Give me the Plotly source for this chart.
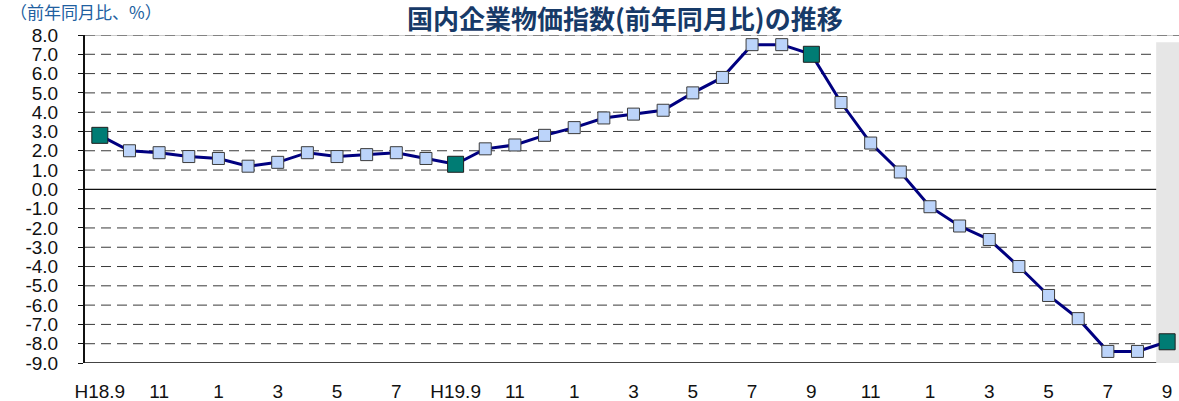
import plotly.graph_objects as go

# 国内企業物価指数 前年同月比（%）, H18.9 〜 H21.9
months = [
    "H18.9", "10", "11", "12", "1", "2", "3", "4", "5", "6", "7", "8",
    "H19.9", "10", "11", "12", "1", "2", "3", "4", "5", "6", "7", "8",
    "9", "10", "11", "12", "1", "2", "3", "4", "5", "6", "7", "8", "9",
]
yoy = [
    2.8, 2.0, 1.9, 1.7, 1.6, 1.2, 1.4, 1.9, 1.7, 1.8, 1.9, 1.6,
    1.3, 2.1, 2.3, 2.8, 3.2, 3.7, 3.9, 4.1, 5.0, 5.8, 7.5, 7.5,
    7.0, 4.5, 2.4, 0.9, -0.9, -1.9, -2.6, -4.0, -5.5, -6.7, -8.4, -8.4, -7.9,
]
# 各年9月の値を強調表示
september_idx = [0, 12, 24, 36]

x_tick_pos = list(range(0, 37, 2))
x_tick_text = ["H18.9", "11", "1", "3", "5", "7",
               "H19.9", "11", "1", "3", "5", "7",
               "9", "11", "1", "3", "5", "7", "9"]
y_tick_vals = list(range(-9, 9))
y_tick_text = [f"{v:.1f}" for v in y_tick_vals]

x = list(range(len(yoy)))

fig = go.Figure()

# 直近月の網掛け
fig.add_shape(type="rect", xref="x", yref="y",
              x0=35.63, x1=36.6, y0=-9, y1=7.62,
              fillcolor="#E6E6E6", line_width=0, layer="below")

# 上端の細線
fig.add_shape(type="line", xref="paper", yref="y", x0=0, x1=1, y0=8, y1=8,
              line=dict(color="#9A9A9A", width=1), layer="below")
# 横の点線グリッド
for v in y_tick_vals:
    if v in (0, -9):
        continue
    fig.add_shape(type="line", xref="paper", yref="y", x0=0, x1=1, y0=v, y1=v,
                  line=dict(color="#3A3A3A", width=1, dash="10px,6px"), layer="below")
# ゼロ線と下端
fig.add_shape(type="line", xref="paper", yref="y", x0=0, x1=1, y0=0, y1=0,
              line=dict(color="#111111", width=1.2), layer="below")
fig.add_shape(type="line", xref="paper", yref="y", x0=0, x1=1, y0=-9, y1=-9,
              line=dict(color="#444444", width=2), layer="below")

fig.add_trace(go.Scatter(
    x=x, y=yoy, mode="lines+markers",
    line=dict(color="#000080", width=3),
    marker=dict(symbol="square", size=12, color="#BCD4FA",
                line=dict(color="#3C3C3C", width=1)),
    hoverinfo="x+y", showlegend=False,
))
fig.add_trace(go.Scatter(
    x=[x[i] for i in september_idx], y=[yoy[i] for i in september_idx],
    mode="markers",
    marker=dict(symbol="square", size=16, color="#007C74",
                line=dict(color="#1E1E1E", width=1)),
    showlegend=False,
))

fig.update_layout(
    width=1179, height=401, autosize=False,
    margin=dict(l=85, r=0, t=35, b=38),
    paper_bgcolor="white", plot_bgcolor="white",
    font=dict(family="Liberation Sans, Arial, sans-serif", color="#111111"),
    xaxis=dict(range=[-0.5, 36.4], tickmode="array", tickvals=x_tick_pos,
               ticktext=x_tick_text, showgrid=False, zeroline=False,
               showline=False, ticks="", tickfont=dict(size=19),
               ticklabelstandoff=15, fixedrange=True),
    yaxis=dict(range=[-9, 8], tickmode="array", tickvals=y_tick_vals,
               ticktext=y_tick_text, showgrid=False, zeroline=False,
               showline=True, linecolor="#111111", linewidth=2,
               ticks="outside", ticklen=5, tickcolor="#111111",
               tickfont=dict(size=19), ticklabelstandoff=16, fixedrange=True),
    annotations=[
        dict(text="<b>国内企業物価指数(前年同月比)の推移</b>",
             xref="paper", yref="paper", x=0.4936, y=1.053,
             xanchor="center", yanchor="middle", showarrow=False,
             font=dict(family="Noto Sans CJK JP", size=26, color="#173A68")),
        dict(text="（前年同月比、%）",
             xref="paper", yref="paper", x=-0.0704, y=1.027,
             xanchor="left", yanchor="bottom", showarrow=False,
             font=dict(family="Noto Sans CJK JP", size=17, color="#2060A0")),
    ],
)

fig.write_html("out.html")
